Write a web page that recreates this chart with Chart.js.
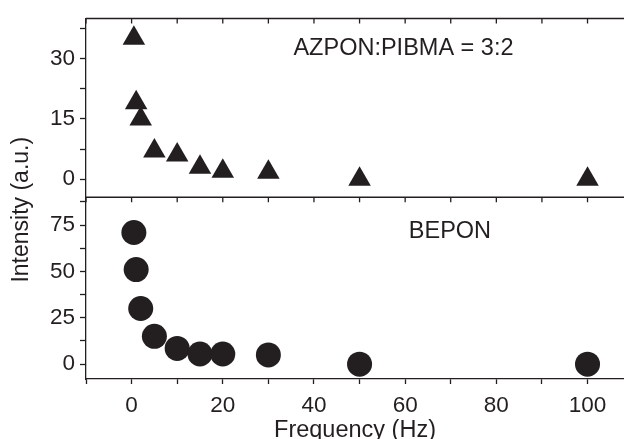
<!DOCTYPE html>
<html>
<head>
<meta charset="utf-8">
<script src="https://cdn.jsdelivr.net/npm/chart.js@4"></script>
<style>
  html, body { margin: 0; padding: 0; background: #fff; }
  #wrap { width: 624px; height: 439px; }
</style>
</head>
<body>
<div id="wrap"><canvas id="freqChart" width="624" height="439"></canvas></div>
<script>
// data
const freqHz = [0.5, 1, 2, 5, 10, 15, 20, 30, 50, 100];
const azponIntensity = [35.1, 19.0, 15.0, 7.0, 6.0, 3.0, 2.0, 1.7, 0, 0];
const beponIntensity = [71, 51, 30, 15, 8.5, 5.5, 5.5, 5, 0, 0];
const xLabelTicks = [0, 20, 40, 60, 80, 100];
const topLabelTicks = [0, 15, 30];
const bottomLabelTicks = [0, 25, 50, 75];

const ink = "#231f20";
const fontFam = '"Liberation Sans", Arial, sans-serif';

const toPoints = (ys) => freqHz.map((f, i) => ({ x: f, y: ys[i] }));

// frame lines, inward ticks, y title and panel labels
const framePlugin = {
  id: "frame",
  afterDraw(chart) {
    const { ctx, chartArea: a, scales } = chart;
    const x = scales.x, yTop = scales.yTop, yBot = scales.yBot;
    ctx.save();
    ctx.strokeStyle = ink;
    ctx.lineWidth = 1.3;
    ctx.beginPath();
    [a.top, yBot.top].forEach((y) => {
      ctx.moveTo(a.left, y);
      ctx.lineTo(a.right, y);
      x.ticks.forEach((t) => {
        const px = x.getPixelForValue(t.value);
        ctx.moveTo(px, y);
        ctx.lineTo(px, y + 5);
      });
    });
    ctx.stroke();

    ctx.fillStyle = ink;
    ctx.font = "23.5px " + fontFam;
    ctx.textBaseline = "middle";
    ctx.textAlign = "left";
    ctx.fillText("AZPON:PIBMA = 3:2", x.getPixelForValue(35.5), yTop.getPixelForValue(32.5));
    ctx.fillText("BEPON", x.getPixelForValue(60.8), yBot.getPixelForValue(71.8));

    ctx.translate(22, (a.top + a.bottom) / 2 + 11);
    ctx.rotate(-Math.PI / 2);
    ctx.textAlign = "center";
    ctx.font = "23px " + fontFam;
    ctx.fillText("Intensity (a.u.)", 0, 0);
    ctx.restore();
  },
};

const tickFont = { family: fontFam, size: 22.5 };

new Chart(document.getElementById("freqChart"), {
  type: "scatter",
  data: {
    datasets: [
      {
        label: "AZPON:PIBMA = 3:2",
        data: toPoints(azponIntensity),
        yAxisID: "yTop",
        pointStyle: "triangle",
        pointRadius: 13,
        pointHoverRadius: 13,
        backgroundColor: ink,
        borderColor: ink,
        borderWidth: 0,
      },
      {
        label: "BEPON",
        data: toPoints(beponIntensity),
        yAxisID: "yBot",
        pointStyle: "circle",
        pointRadius: 12.5,
        pointHoverRadius: 12.5,
        backgroundColor: ink,
        borderColor: ink,
        borderWidth: 0,
      },
    ],
  },
  options: {
    responsive: false,
    animation: false,
    layout: { autoPadding: false, padding: { left: 26, top: 14, right: 0, bottom: 0 } },
    plugins: { legend: { display: false }, tooltip: { enabled: false } },
    scales: {
      x: {
        type: "linear",
        min: -10,
        max: 108,
        afterFit: (s) => { s.height = 60; s.paddingRight = 0; s.paddingLeft = 0; },
        border: { color: ink, width: 1.3 },
        grid: { drawOnChartArea: false, tickLength: 5, color: ink, tickWidth: 1.3 },
        ticks: {
          stepSize: 10,
          includeBounds: false,
          color: ink,
          font: tickFont,
          padding: 8,
          maxRotation: 0,
          autoSkip: false,
          callback: (v) => (xLabelTicks.includes(v) ? String(v) : ""),
        },
        title: {
          display: true,
          text: "Frequency (Hz)",
          color: ink,
          font: { family: fontFam, size: 23.5 },
          padding: { top: 0, bottom: -6 },
        },
      },
      yBot: {
        type: "linear",
        position: "left",
        stack: "panels",
        stackWeight: 184,
        min: -8,
        max: 90,
        afterFit: (s) => { s.width = 60; },
        border: { color: ink, width: 1.3 },
        grid: { drawOnChartArea: false, tickLength: 6, color: ink, tickWidth: 1.3 },
        ticks: {
          stepSize: 12.5,
          includeBounds: false,
          color: ink,
          font: tickFont,
          padding: 5,
          autoSkip: false,
          callback: (v) => (bottomLabelTicks.includes(v) ? String(v) : ""),
        },
      },
      yTop: {
        type: "linear",
        position: "left",
        stack: "panels",
        stackWeight: 181,
        min: -4.5,
        max: 40,
        afterFit: (s) => { s.width = 60; },
        border: { color: ink, width: 1.3 },
        grid: { drawOnChartArea: false, tickLength: 6, color: ink, tickWidth: 1.3 },
        ticks: {
          stepSize: 7.5,
          includeBounds: false,
          color: ink,
          font: tickFont,
          padding: 5,
          autoSkip: false,
          callback: (v) => (topLabelTicks.includes(v) ? String(v) : ""),
        },
      },
    },
  },
  plugins: [framePlugin],
});
</script>
</body>
</html>
